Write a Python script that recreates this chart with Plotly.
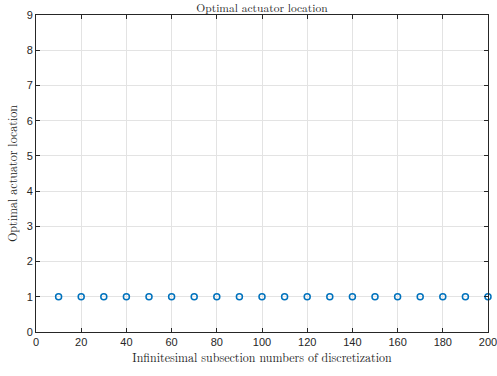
import plotly.graph_objects as go

x_vals = [10, 20, 30, 40, 50, 60, 70, 80, 90, 100, 110, 120, 130, 140, 150, 160, 170, 180, 190, 200]
y_vals = [1, 1, 1, 1, 1, 1, 1, 1, 1, 1, 1, 1, 1, 1, 1, 1, 1, 1, 1, 1]

title_text = "Optimal actuator location"
x_label = "Infinitesimal subsection numbers of discretization"
y_label = "Optimal actuator location"

serif = "Latin Modern Roman, CMU Serif, Liberation Serif, DejaVu Serif, serif"
sans = "Liberation Sans, Arial, Helvetica, sans-serif"

fig = go.Figure()
fig.add_trace(go.Scatter(
    x=x_vals, y=y_vals, mode="markers",
    marker=dict(symbol="circle-open", size=6, color="#0072BD", line=dict(width=1.5, color="#0072BD")),
    cliponaxis=False, showlegend=False,
))

axis_common = dict(
    showline=True, linecolor="#262626", linewidth=1, mirror="ticks",
    ticks="inside", ticklen=4, tickcolor="#262626",
    showgrid=True, gridcolor="#e3e3e3", gridwidth=1,
    zeroline=False, automargin=False, ticklabeloverflow="allow",
    tickfont=dict(family=sans, size=11, color="#262626"),
)

fig.update_layout(
    width=497, height=376,
    margin=dict(l=36, r=9, t=15, b=44),
    paper_bgcolor="white", plot_bgcolor="white",
    title=dict(text=title_text, x=0.5, xanchor="center", xref="paper",
               y=1 - 7.5 / 376, yref="container", yanchor="middle", automargin=False,
               font=dict(family=serif, size=11.5, color="#262626")),
    xaxis=dict(range=[0, 200], tickvals=list(range(0, 201, 20)),
               title=dict(text=x_label, font=dict(family=serif, size=12, color="#262626"), standoff=2),
               **axis_common),
    yaxis=dict(range=[0, 9], tickvals=list(range(0, 10)),
               title=dict(text=y_label, font=dict(family=serif, size=12, color="#262626"), standoff=6),
               **axis_common),
)

fig.write_html("out.html")
